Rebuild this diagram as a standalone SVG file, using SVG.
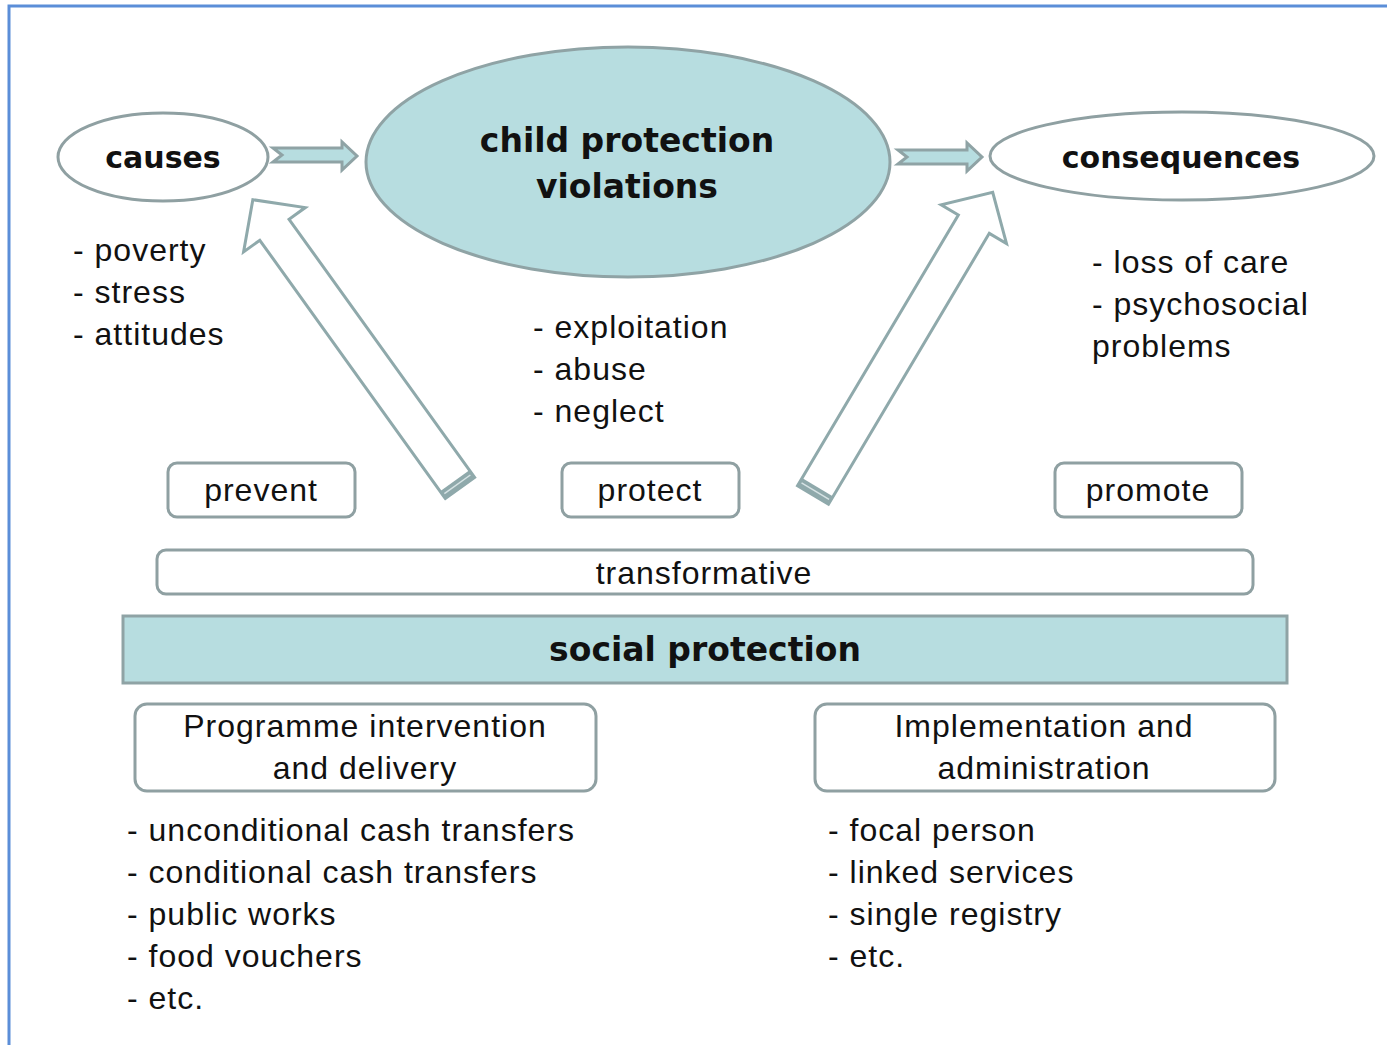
<svg xmlns="http://www.w3.org/2000/svg" width="1387" height="1045" viewBox="0 0 1387 1045">
<style>
.b{font-family:"DejaVu Sans",Verdana,sans-serif;font-weight:bold;fill:#111;text-anchor:middle}
.r{font-family:"Liberation Sans",Arial,sans-serif;font-size:32px;letter-spacing:1px;fill:#111}
.c{text-anchor:middle}
.box{fill:#fff;stroke:#8FA0A2;stroke-width:3}
.teal{fill:#B7DDE0;stroke:#8FA3A5;stroke-width:3}
.big{fill:#fff;stroke:#8FA9AB;stroke-width:3;stroke-linejoin:miter}
.band{fill:#8FA9AB}
</style>
<rect width="1387" height="1045" fill="#fff"/>
<path d="M9,1045 L9,6 L1387,6" fill="none" stroke="#5B8ED8" stroke-width="3"/>

<g id="connectors">
  <path class="teal" d="M273,148 L342,148 L342,142 L357,156 L342,170 L342,162 L273,162 L282,155 Z"/>
  <path class="teal" d="M898,150 L967,150 L967,143 L982,157 L967,171 L967,164 L898,164 L907,157 Z"/>
  <g transform="translate(460,488) rotate(-125.7)">
    <path class="big" d="M0,-18 L318,-18 L318,-38 L355,0 L318,38 L318,18 L0,18 Z"/>
    <rect class="band" x="0" y="-18" width="9" height="36"/>
    <line x1="4.5" y1="-16" x2="4.5" y2="16" stroke="#D6E3E4" stroke-width="1.5"/>
  </g>
  <g transform="translate(813,495) rotate(-59.3)">
    <path class="big" d="M0,-18 L315,-18 L315,-38 L352,0 L315,38 L315,18 L0,18 Z"/>
    <rect class="band" x="0" y="-18" width="9" height="36"/>
    <line x1="4.5" y1="-16" x2="4.5" y2="16" stroke="#D6E3E4" stroke-width="1.5"/>
  </g>
</g>

<g id="causes">
  <ellipse cx="163" cy="157" rx="105" ry="44" class="box"/>
  <text class="b" x="163" y="168" font-size="30">causes</text>
</g>
<g id="violations">
  <ellipse cx="628" cy="162" rx="262" ry="115" class="teal"/>
  <text class="b" x="627" y="152" font-size="33">child protection</text>
  <text class="b" x="627" y="198" font-size="33">violations</text>
</g>
<g id="consequences">
  <ellipse cx="1182" cy="156" rx="192" ry="44" class="box"/>
  <text class="b" x="1181" y="168" font-size="30">consequences</text>
</g>

<g id="causes-list">
  <text class="r" x="73" y="261">- poverty</text>
  <text class="r" x="73" y="303">- stress</text>
  <text class="r" x="73" y="345">- attitudes</text>
</g>
<g id="violations-list">
  <text class="r" x="533" y="338">- exploitation</text>
  <text class="r" x="533" y="380">- abuse</text>
  <text class="r" x="533" y="422">- neglect</text>
</g>
<g id="consequences-list">
  <text class="r" x="1092" y="273">- loss of care</text>
  <text class="r" x="1092" y="315">- psychosocial</text>
  <text class="r" x="1092" y="357">problems</text>
</g>

<g id="prevent">
  <rect class="box" x="168" y="463" width="187" height="54" rx="9"/>
  <text class="r c" x="261" y="501">prevent</text>
</g>
<g id="protect">
  <rect class="box" x="562" y="463" width="177" height="54" rx="9"/>
  <text class="r c" x="650" y="501">protect</text>
</g>
<g id="promote">
  <rect class="box" x="1055" y="463" width="187" height="54" rx="9"/>
  <text class="r c" x="1148" y="501">promote</text>
</g>
<g id="transformative">
  <rect class="box" x="157" y="550" width="1096" height="44" rx="9"/>
  <text class="r c" x="704" y="584">transformative</text>
</g>
<g id="social-protection">
  <rect class="teal" x="123" y="616" width="1164" height="67"/>
  <text class="b" x="705" y="661" font-size="33">social protection</text>
</g>
<g id="programme">
  <rect class="box" x="135" y="704" width="461" height="87" rx="12"/>
  <text class="r c" x="365" y="737">Programme intervention</text>
  <text class="r c" x="365" y="779">and delivery</text>
</g>
<g id="implementation">
  <rect class="box" x="815" y="704" width="460" height="87" rx="12"/>
  <text class="r c" x="1044" y="737">Implementation and</text>
  <text class="r c" x="1044" y="779">administration</text>
</g>
<g id="programme-list">
  <text class="r" x="127" y="841">- unconditional cash transfers</text>
  <text class="r" x="127" y="883">- conditional cash transfers</text>
  <text class="r" x="127" y="925">- public works</text>
  <text class="r" x="127" y="967">- food vouchers</text>
  <text class="r" x="127" y="1009">- etc.</text>
</g>
<g id="implementation-list">
  <text class="r" x="828" y="841">- focal person</text>
  <text class="r" x="828" y="883">- linked services</text>
  <text class="r" x="828" y="925">- single registry</text>
  <text class="r" x="828" y="967">- etc.</text>
</g>
</svg>
